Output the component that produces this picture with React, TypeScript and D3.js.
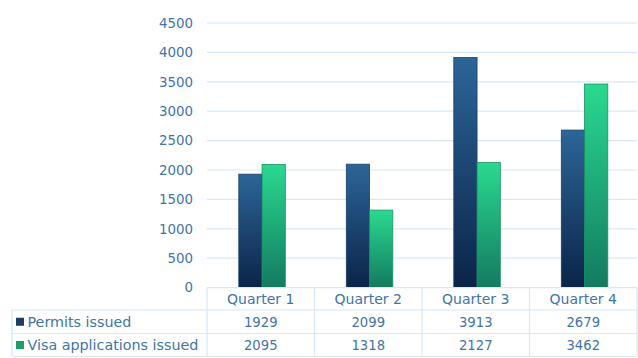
import React from "react";
import * as d3 from "d3";

const quarters = ["Quarter 1", "Quarter 2", "Quarter 3", "Quarter 4"];
const seriesNames = ["Permits issued", "Visa applications issued"];
const permits = [1929, 2099, 3913, 2679];
const visas = [2095, 1318, 2127, 3462];
const yTicks = [0, 500, 1000, 1500, 2000, 2500, 3000, 3500, 4000, 4500];

const W = 638;
const H = 358;
const TEXT = "#4274a8";
const GRID = "#d8e8f6";
const FONT = "'DejaVu Sans', sans-serif";

export default function App() {
  const series = [permits, visas];
  const plotLeft = 207;
  const plotRight = 637;
  const tableLeft = 12;
  const y = d3.scaleLinear().domain([0, 4500]).range([287.6, 23]);
  const x = d3.scaleBand<string>().domain(quarters).range([plotLeft, plotRight]).paddingInner(0).paddingOuter(0);
  const groupW = 46.5;
  const xs = d3
    .scaleBand<string>()
    .domain(seriesNames)
    .range([(x.bandwidth() - groupW) / 2 + 1.3, (x.bandwidth() + groupW) / 2 + 1.3])
    .padding(0);

  const rowTop = y(0);
  const rows = [rowTop, 310, 333.5, 356.5];

  const fills = ["url(#gDark)", "url(#gGreen)"];
  const strokes = ["#1b3f69", "#1a8f64"];
  const keyColors = ["#1b3d68", "#1f9e6c"];

  return (
    <svg
      width={W}
      height={H}
      style={{ position: "absolute", left: 0, top: 0, background: "#fff" }}
      fontFamily={FONT}
    >
      <defs>
        <linearGradient id="gDark" x1="0" y1="0" x2="0" y2="1">
          <stop offset="0" stopColor="#2c6598" />
          <stop offset="1" stopColor="#0b2448" />
        </linearGradient>
        <linearGradient id="gGreen" x1="0" y1="0" x2="0" y2="1">
          <stop offset="0" stopColor="#2ad990" />
          <stop offset="1" stopColor="#137a60" />
        </linearGradient>
      </defs>

      {/* gridlines */}
      {yTicks.filter((t) => t > 0).map((t) => (
        <line key={t} x1={plotLeft} x2={plotRight} y1={y(t)} y2={y(t)} stroke={GRID} strokeWidth={1.2} />
      ))}

      {/* tick labels */}
      {yTicks.map((t) => (
        <text key={t} x={193} y={y(t)} dy="0.36em" textAnchor="end" fontSize={13.4} fill={TEXT}>
          {t}
        </text>
      ))}

      {/* bars */}
      {quarters.map((q, i) => (
        <g key={q} transform={`translate(${x(q)},0)`}>
          {series.map((s, j) => (
            <rect
              key={j}
              x={xs(seriesNames[j])}
              y={y(s[i])}
              width={xs.bandwidth()}
              height={y(0) - y(s[i])}
              fill={fills[j]}
              stroke={strokes[j]}
              strokeWidth={0.8}
            />
          ))}
        </g>
      ))}

      {/* table lines */}
      <line x1={plotLeft} x2={plotRight} y1={rows[0]} y2={rows[0]} stroke={GRID} strokeWidth={1.2} />
      {rows.slice(1).map((r, i) => (
        <line key={i} x1={tableLeft} x2={plotRight} y1={r} y2={r} stroke={GRID} strokeWidth={1.2} />
      ))}
      <line x1={tableLeft} x2={tableLeft} y1={rows[1]} y2={rows[3]} stroke={GRID} strokeWidth={1.2} />
      {quarters.map((q) => (
        <line key={q} x1={x(q)} x2={x(q)} y1={rows[0]} y2={rows[3]} stroke={GRID} strokeWidth={1.2} />
      ))}
      <line x1={plotRight} x2={plotRight} y1={rows[0]} y2={rows[3]} stroke={GRID} strokeWidth={1.2} />

      {/* header */}
      {quarters.map((q) => (
        <text
          key={q}
          x={(x(q) as number) + x.bandwidth() / 2}
          y={(rows[0] + rows[1]) / 2}
          dy="0.36em"
          textAnchor="middle"
          fontSize={14}
          fill={TEXT}
        >
          {q}
        </text>
      ))}

      {/* rows */}
      {series.map((s, j) => {
        const cy = (rows[j + 1] + rows[j + 2]) / 2;
        return (
          <g key={j}>
            <rect x={16} y={cy - 4} width={8} height={8} fill={keyColors[j]} />
            <text x={27.5} y={cy} dy="0.36em" fontSize={14.3} fill={TEXT}>
              {seriesNames[j]}
            </text>
            {quarters.map((q, i) => (
              <text
                key={q}
                x={(x(q) as number) + x.bandwidth() / 2}
                y={cy}
                dy="0.36em"
                textAnchor="middle"
                fontSize={13.2}
                fill={TEXT}
              >
                {s[i]}
              </text>
            ))}
          </g>
        );
      })}
    </svg>
  );
}
